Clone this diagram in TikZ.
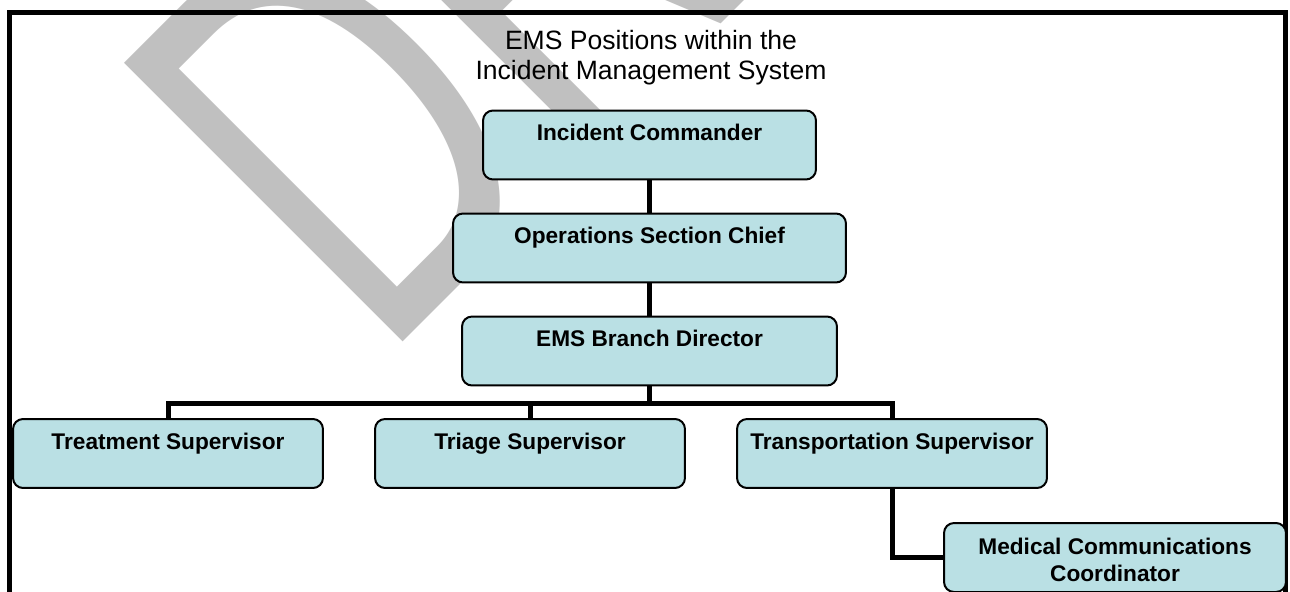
\documentclass[tikz,border=0pt]{standalone}
\usepackage{fontspec}
\setmainfont{Liberation Sans}
\usepackage{tikz}
\definecolor{orgblue}{RGB}{186,224,228}
\definecolor{draftgray}{RGB}{192,192,192}

\begin{document}
\begin{tikzpicture}[x=0.02cm, y=-0.02cm,
        posbox/.style={draw, line width=0.04cm, rounded corners=0.2cm, fill=orgblue,
            inner xsep=0pt, inner ysep=0pt, minimum height=1.38cm,
            text height=0.6cm, text depth=0.78cm, align=center,
            font=\fontsize{12.9}{14.8}\selectfont\bfseries},
        tie/.style={line width=0.1cm}]
            \useasboundingbox (0,0) rectangle (1290,591);
            \fill[white] (0,0) rectangle (1290,591);
            \node[text=draftgray, font=\fontsize{326}{326}\selectfont, inner sep=0pt,
                anchor=base west, rotate=45, xscale=0.65] (draft) at (381,364) {DRAFT};
            \draw[line width=0.1cm]
                (9.5,600) -- (9.5,12.5) -- (1285.5,12.5) -- (1285.5,600);
            \node[align=center, inner sep=0pt, font=\fontsize{15.1}{17.1}\selectfont]
                (title) at (651,58) {EMS Positions within the\\Incident Management System};
            \node[posbox, minimum width=6.66cm] (ic) at (649.5,145) {Incident Commander};
            \node[posbox, minimum width=7.86cm] (osc) at (649.5,248) {Operations Section Chief};
            \node[posbox, minimum width=7.5cm] (ems) at (649.5,351) {EMS Branch Director};
            \node[posbox, minimum width=6.2cm] (treat) at (168,453.5) {Treatment Supervisor};
            \node[posbox, minimum width=6.2cm] (triage) at (530,453.5) {Triage Supervisor};
            \node[posbox, minimum width=6.2cm] (trans) at (892,453.5) {Transportation Supervisor};
            \node[posbox, minimum width=6.84cm, text height=1.16cm, text depth=0.22cm]
                (medcom) at (1115,557.5) {Medical Communications\\Coordinator};
            \draw[tie] (ic) -- (osc);
            \draw[tie] (osc) -- (ems);
            \draw[tie] (ems.south) -- ++(0,17.5) -| (treat.north);
            \draw[tie] (ems.south) -- ++(0,17.5) -| (triage.north);
            \draw[tie] (ems.south) -- ++(0,17.5) -| (trans.north);
            \draw[tie] (trans) |- (medcom);
\end{tikzpicture}
\end{document}
